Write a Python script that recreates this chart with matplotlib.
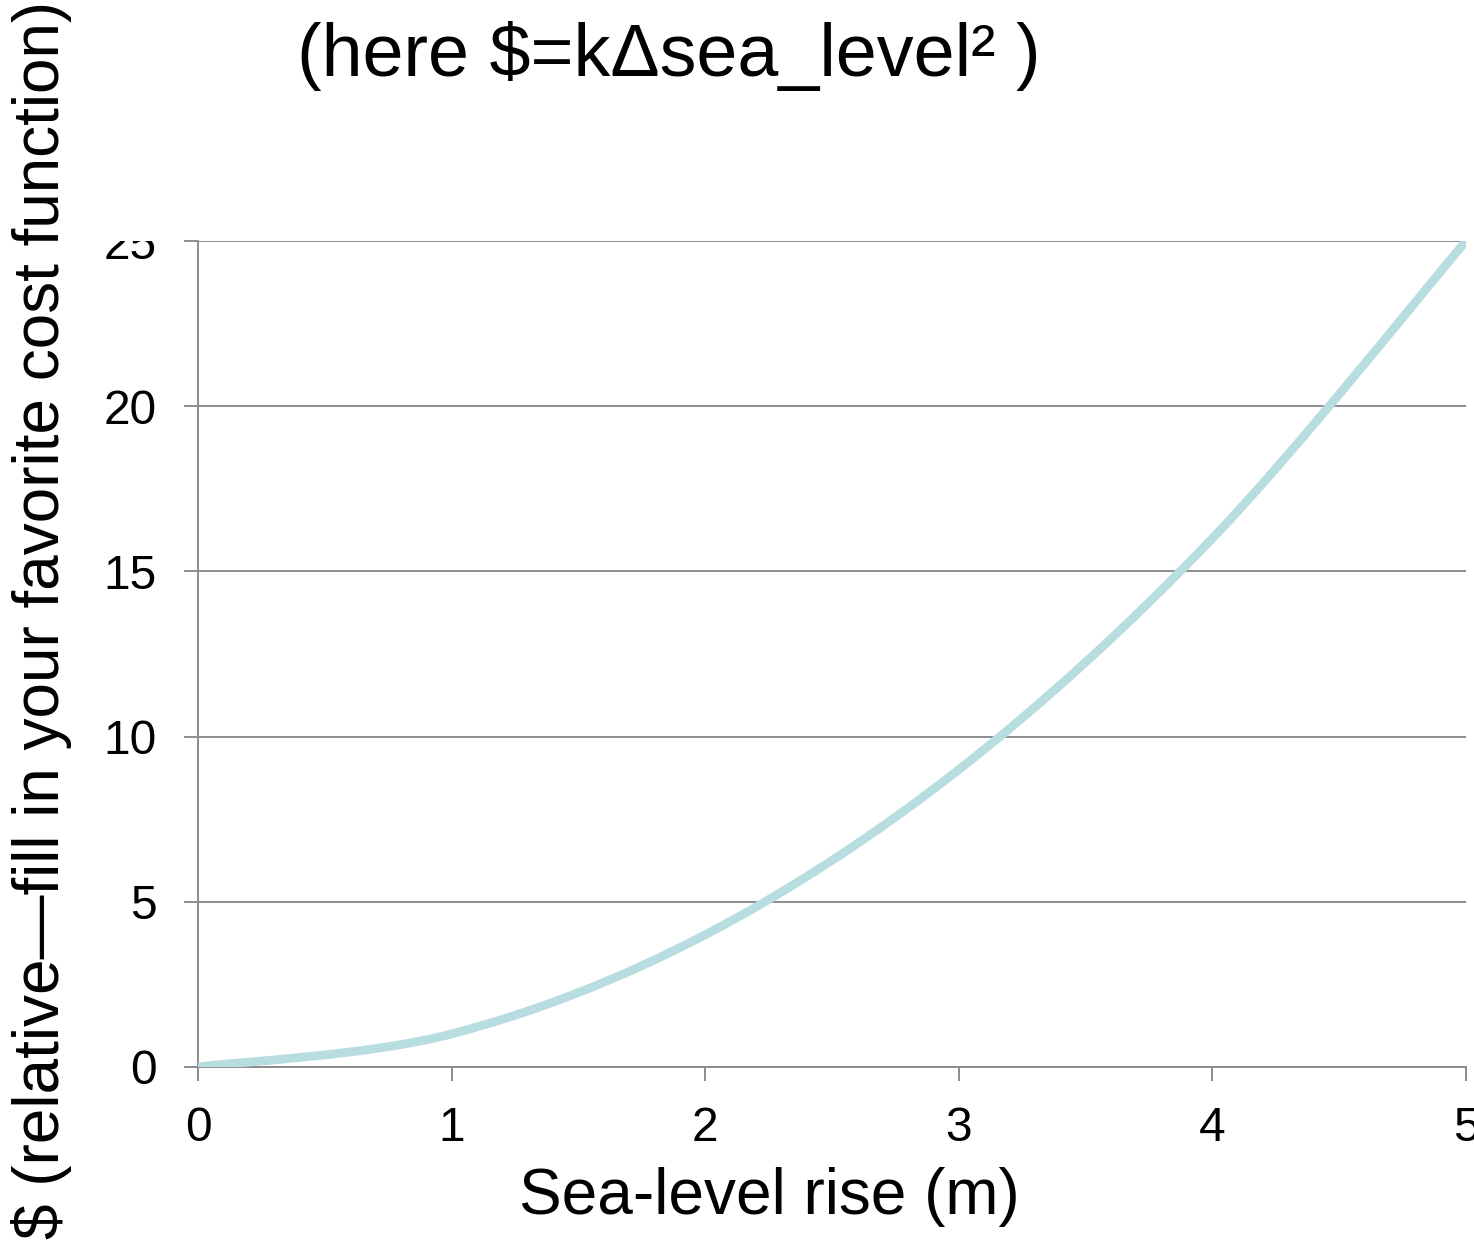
import matplotlib
matplotlib.use('Agg')
import matplotlib.pyplot as plt
from matplotlib.path import Path
from matplotlib.patches import PathPatch
from matplotlib.transforms import Bbox, TransformedBbox, blended_transform_factory

plt.rcParams['font.family'] = ['Liberation Sans', 'DejaVu Sans']

# data (smoothed line through these points)
sea_level = [0, 1, 2, 3, 4, 5]
cost = [0, 1, 4, 9, 16, 25]
x_ticks = [0, 1, 2, 3, 4, 5]
y_ticks = [0, 5, 10, 15, 20, 25]

title = '(here $=k\u0394sea_level\u00b2 )'
xlabel = 'Sea-level rise (m)'
ylabel = '$ (relative\u2014fill in your favorite cost function)'

grey = '#8c8c8c'
line_col = '#b7dde0'

fig = plt.figure(figsize=(14.74, 12.52), dpi=100)
ax = fig.add_axes([0.1343, 0.1478, 0.8603, 0.6597])

# smoothed line, like a spreadsheet "smoothed line" series (Bezier through points)
n = len(sea_level)
pts = list(zip(sea_level, cost))
verts = [pts[0]]
codes = [Path.MOVETO]
for i in range(n - 1):
    p0 = pts[max(i - 1, 0)]
    p1 = pts[i]
    p2 = pts[i + 1]
    p3 = pts[min(i + 2, n - 1)]
    c1 = (p1[0] + (p2[0] - p0[0]) / 6, p1[1] + (p2[1] - p0[1]) / 6)
    c2 = (p2[0] - (p3[0] - p1[0]) / 6, p2[1] - (p3[1] - p1[1]) / 6)
    verts += [c1, c2, p2]
    codes += [Path.CURVE4] * 3
ax.add_patch(PathPatch(Path(verts, codes), fill=False, edgecolor=line_col,
                       linewidth=6.3, capstyle='butt', zorder=3))

ax.set_xlim(0, 5)
ax.set_ylim(0, 25)
ax.set_xticks(x_ticks)
ax.set_yticks(y_ticks)
ax.yaxis.grid(True, color=grey, linewidth=1.4)
ax.set_axisbelow(True)

for s in ['top', 'right']:
    ax.spines[s].set_visible(False)
for s in ['left', 'bottom']:
    ax.spines[s].set_color(grey)
    ax.spines[s].set_linewidth(1.4)

ax.tick_params(axis='both', direction='out', length=10, width=1.4, color=grey,
               labelsize=34.5, labelcolor='black')
ax.tick_params(axis='y', pad=20)
ax.tick_params(axis='x', pad=18)

# tick labels are cut off above the top of the plot area
clip = TransformedBbox(Bbox([[0, -1], [1, 1]]),
                       blended_transform_factory(fig.transFigure, ax.transAxes))
for t in ax.get_yticklabels():
    t.set_clip_box(clip)
    t.set_clip_on(True)

fig.text(0.454, 0.955, title, fontsize=53, ha='center', va='center')
fig.text(0.522, 0.044, xlabel, fontsize=46, ha='center', va='center')
fig.text(0.028, 0.505, ylabel, fontsize=46, ha='center', va='center', rotation=90)

fig.savefig('out.png', dpi=100)
